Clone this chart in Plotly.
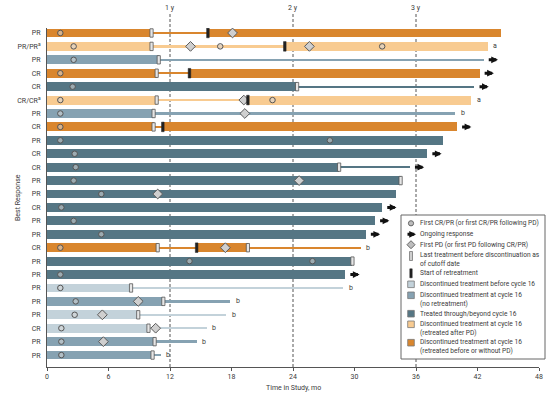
import plotly.graph_objects as go

# ---------------- data ----------------
labels = ["PR", "PR/PR<sup>a</sup>", "PR", "CR", "CR", "CR/CR<sup>a</sup>", "PR", "CR", "PR", "CR",
          "CR", "PR", "PR", "CR", "PR", "PR", "CR", "PR", "PR", "PR",
          "PR", "PR", "CR", "PR", "PR"]
groups = ["orange", "lorange", "medium", "orange", "dark", "lorange", "medium", "orange", "dark", "dark",
          "dark", "dark", "dark", "dark", "dark", "dark", "orange", "dark", "dark", "light",
          "medium", "light", "light", "medium", "medium"]
thick_segments = [
    [(0, 10.2), (15.7, 44.3)], [(0, 10.2), (23.2, 43.0)], [(0, 10.9)], [(0, 10.7), (13.9, 42.2)],
    [(0, 24.4)], [(0, 10.7), (19.6, 41.4)], [(0, 10.4)], [(0, 10.4), (11.3, 40.0)],
    [(0, 38.6)], [(0, 37.1)], [(0, 28.5)], [(0, 34.5)], [(0, 34.0)], [(0, 32.7)],
    [(0, 32.0)], [(0, 31.1)], [(0, 10.8), (14.6, 19.6)], [(0, 29.8)], [(0, 29.1)],
    [(0, 8.2)], [(0, 11.35)], [(0, 8.9)], [(0, 9.9)], [(0, 10.5)], [(0, 10.3)]]
thin_segments = [
    [(10.2, 15.7)], [(10.2, 23.2)], [(10.9, 42.6)], [(10.7, 13.9)],
    [(24.4, 41.7)], [(10.7, 19.6)], [(10.4, 39.8)], [(10.4, 11.3)],
    [], [], [(28.5, 35.4)], [], [], [],
    [], [], [(10.8, 14.6), (19.6, 30.6)], [], [],
    [(8.2, 28.9)], [(11.35, 17.9)], [(8.9, 17.5)], [(9.9, 15.6)], [(10.5, 14.6)], [(10.3, 11.1)]]
last_treatment = [[10.2], [10.2], [10.9], [10.7], [24.4], [10.7], [10.4], [10.4], [], [], [28.5], [34.5], [],
                  [], [], [], [10.8, 19.6], [29.8], [], [8.2], [11.35], [8.9], [9.9], [10.5], [10.3]]
retreatment = [[15.7], [23.2], [], [13.9], [], [19.6], [], [11.3], [], [], [], [], [],
               [], [], [], [14.6], [], [], [], [], [], [], [], []]
first_response = [[1.3], [2.6, 16.9, 32.7], [2.6], [1.3], [2.5], [1.3, 22.0], [1.3], [1.3], [1.3, 27.6], [2.7],
                  [2.8], [2.6], [5.3], [1.4], [2.6], [5.3], [1.3], [13.9, 25.9], [1.3], [1.3],
                  [2.8], [2.7], [1.4], [1.4], [1.4]]
first_pd = [[18.1], [14.0, 25.6], [], [], [], [19.2], [19.3], [], [], [],
            [], [24.6], [10.8], [], [], [], [17.4], [], [], [],
            [8.9], [5.4], [10.6], [5.5], []]
ongoing = [False, False, True, True, True, False, False, True, False, True,
           True, False, False, True, True, True, False, False, True, False,
           False, False, False, False, False]
notes = ["", "a", "", "", "", "a", "b", "", "", "",
         "", "", "", "", "", "", "b", "", "", "b",
         "b", "b", "b", "b", "b"]
xticks = [0, 6, 12, 18, 24, 30, 36, 42, 48]
year_marks = [12, 24, 36]
year_labels = ["1 y", "2 y", "3 y"]

colors = {"light": "#c3d2da", "medium": "#86a2b2", "dark": "#557684",
          "lorange": "#f8cb91", "orange": "#d9862e"}
legend_items = [
    ("light", "Discontinued treatment before cycle 16"),
    ("medium", "Discontinued treatment at cycle 16<br>(no retreatment)"),
    ("dark", "Treated through/beyond cycle 16"),
    ("lorange", "Discontinued treatment at cycle 16<br>(retreated after PD)"),
    ("orange", "Discontinued treatment at cycle 16<br>(retreated before or without PD)"),
]

FONT = "Roboto"
TXT = "#3a3a3a"
rows = list(range(1, len(labels) + 1))

# plot geometry (pixels)
L, R, T, B = 47, 539, 28, 367
W, H = 560, 396
def px2x(px):
    return (px - L) / (R - L)
def py2y(py):
    return (B - py) / (B - T)

fig = go.Figure()

# bars
for thick, segs_list, width in [(True, thick_segments, 0.66), (False, thin_segments, 0.17)]:
    for g in colors:
        ys, bases, lens = [], [], []
        for r, segs, grp in zip(rows, segs_list, groups):
            if grp != g:
                continue
            for s, e in segs:
                ys.append(r); bases.append(s); lens.append(e - s)
        if ys:
            fig.add_trace(go.Bar(y=ys, x=lens, base=bases, orientation="h", width=width,
                                 marker=dict(color=colors[g], line=dict(width=0)),
                                 showlegend=False, hoverinfo="skip"))

# markers
cx, cy, dx, dy = [], [], [], []
for r, vals in zip(rows, first_response):
    for v in vals:
        cx.append(v); cy.append(r)
for r, vals in zip(rows, first_pd):
    for v in vals:
        dx.append(v); dy.append(r)
fig.add_trace(go.Scatter(x=cx, y=cy, mode="markers", showlegend=False, hoverinfo="skip",
                         marker=dict(symbol="circle", size=5.5, color="rgba(215,215,215,0.55)",
                                     line=dict(color="#555", width=1))))
fig.add_trace(go.Scatter(x=dx, y=dy, mode="markers", showlegend=False, hoverinfo="skip",
                         marker=dict(symbol="diamond", size=7.5, color="#cfcfcf",
                                     line=dict(color="#5a5a5a", width=1))))

shapes = []
# year dashed lines
for xv in year_marks:
    shapes.append(dict(type="line", xref="x", yref="paper", x0=xv, x1=xv, y0=0, y1=py2y(14),
                       line=dict(color="#555", width=1, dash="3px,2px"), layer="below"))
# last-treatment boxes
for r, vals in zip(rows, last_treatment):
    for v in vals:
        shapes.append(dict(type="rect", xref="x", yref="y", xsizemode="pixel", ysizemode="pixel",
                           xanchor=v, yanchor=r, x0=-1.6, x1=1.6, y0=-4.2, y1=4.2,
                           fillcolor="#e6e6e6", line=dict(color="#555", width=0.8), layer="above"))
# retreatment start
for r, vals in zip(rows, retreatment):
    for v in vals:
        shapes.append(dict(type="rect", xref="x", yref="y", xsizemode="pixel", ysizemode="pixel",
                           xanchor=v, yanchor=r, x0=-1.3, x1=1.3, y0=-4.8, y1=4.8,
                           fillcolor="#222", line=dict(color="#222", width=0.5), layer="above"))

annotations = []
# ongoing arrows and footnote letters
for r, segs, tsegs, on, note in zip(rows, thick_segments, thin_segments, ongoing, notes):
    end = max([e for _, e in segs] + [e for _, e in tsegs])
    if on:
        annotations.append(dict(x=end + 1.4, y=r, ax=end + 0.35, ay=r, xref="x", yref="y",
                                axref="x", ayref="y", showarrow=True, arrowhead=2, arrowsize=0.45,
                                arrowwidth=3, arrowcolor="#111", text=""))
    if note:
        annotations.append(dict(x=end + 0.35, y=r, xref="x", yref="y", text=note, showarrow=False,
                                xanchor="left", yanchor="middle", font=dict(size=7, color=TXT, family=FONT)))
# year labels
for xv, lab in zip(year_marks, year_labels):
    annotations.append(dict(x=xv, y=py2y(8), xref="x", yref="paper", text=lab, showarrow=False,
                            xanchor="center", yanchor="middle", font=dict(size=7, color=TXT, family=FONT)))
# axis titles
annotations.append(dict(x=px2x(293), y=py2y(388), xref="paper", yref="paper", text="Time in Study, mo",
                        showarrow=False, yanchor="middle", font=dict(size=7, color=TXT, family=FONT)))
annotations.append(dict(x=px2x(12), y=py2y(198), xref="paper", yref="paper", text="Best Response",
                        textangle=-90, showarrow=False, font=dict(size=7, color=TXT, family=FONT)))

# ---------------- legend (drawn manually) ----------------
shapes.append(dict(type="rect", xref="paper", yref="paper", x0=px2x(401), x1=px2x(545),
                   y0=py2y(359), y1=py2y(215), fillcolor="white", line=dict(color="#666", width=1),
                   layer="above"))
ix, tx = 411, 418
def ltext(py, text):
    annotations.append(dict(x=px2x(tx), y=py2y(py), xref="paper", yref="paper", text=text,
                            showarrow=False, xanchor="left", yanchor="middle", align="left",
                            font=dict(size=6.6, color=TXT, family=FONT)))
# circle
shapes.append(dict(type="circle", xref="paper", yref="paper", xsizemode="pixel", ysizemode="pixel",
                   xanchor=px2x(ix), yanchor=py2y(223.3), x0=-2.6, x1=2.6, y0=-2.6, y1=2.6,
                   fillcolor="#bdbdbd", line=dict(color="#666", width=1), layer="above"))
ltext(223.3, "First CR/PR (or first CR/PR following PD)")
# arrow
annotations.append(dict(x=px2x(ix + 5), y=py2y(234.3), xref="paper", yref="paper", ax=-10, ay=0,
                        showarrow=True, arrowhead=2, arrowsize=0.45, arrowwidth=3, arrowcolor="#111", text=""))
ltext(234.3, "Ongoing response")
# diamond
shapes.append(dict(type="path", xref="paper", yref="paper", xsizemode="pixel", ysizemode="pixel",
                   xanchor=px2x(ix), yanchor=py2y(244.7), path="M -4 0 L 0 4 L 4 0 L 0 -4 Z",
                   fillcolor="#bdbdbd", line=dict(color="#666", width=1), layer="above"))
ltext(244.7, "First PD (or first PD following CR/PR)")
# last treatment
shapes.append(dict(type="rect", xref="paper", yref="paper", xsizemode="pixel", ysizemode="pixel",
                   xanchor=px2x(ix), yanchor=py2y(256), x0=-1.5, x1=1.5, y0=-4.5, y1=4.5,
                   fillcolor="#cfcfcf", line=dict(color="#777", width=0.8), layer="above"))
ltext(259.5, "Last treatment before discontinuation as<br>of cutoff date")
# retreatment
shapes.append(dict(type="rect", xref="paper", yref="paper", xsizemode="pixel", ysizemode="pixel",
                   xanchor=px2x(ix), yanchor=py2y(273.3), x0=-1.2, x1=1.2, y0=-4.5, y1=4.5,
                   fillcolor="#222", line=dict(color="#222", width=0.5), layer="above"))
ltext(273.3, "Start of retreatment")
legend_y = [(284.3, 284.3), (295.3, 299.3), (313.7, 313.7), (324.3, 328.3), (342.7, 346.8)]
for (g, text), (iy, ty) in zip(legend_items, legend_y):
    shapes.append(dict(type="rect", xref="paper", yref="paper", xsizemode="pixel", ysizemode="pixel",
                       xanchor=px2x(ix), yanchor=py2y(iy), x0=-3.3, x1=3.3, y0=-3.3, y1=3.3,
                       fillcolor=colors[g], line=dict(color="#777", width=0.8), layer="above"))
    ltext(ty, text)

fig.update_layout(
    width=W, height=H, margin=dict(l=L, r=W - R, t=T, b=H - B, autoexpand=False),
    paper_bgcolor="white", plot_bgcolor="white", barmode="overlay", bargap=0,
    shapes=shapes, annotations=annotations, showlegend=False,
    font=dict(family=FONT, size=7, color=TXT),
    xaxis=dict(range=[0, 48], tickvals=xticks, ticktext=[str(t) for t in xticks], showgrid=False,
               zeroline=False, showline=True, linecolor="#555", linewidth=1, ticks="outside",
               ticklen=3, tickcolor="#555", tickfont=dict(size=7, color=TXT, family=FONT)),
    yaxis=dict(range=[len(labels) + 0.89, 0.63], tickvals=rows, ticktext=labels, showgrid=False,
               zeroline=False, showline=True, linecolor="#555", linewidth=1, ticks="",
               ticklabelstandoff=4, tickfont=dict(size=7, color=TXT, family=FONT)),
)

fig.write_html("out.html", config={"displayModeBar": False},
               post_script="document.body.style.margin='0';document.body.style.padding='0';")
